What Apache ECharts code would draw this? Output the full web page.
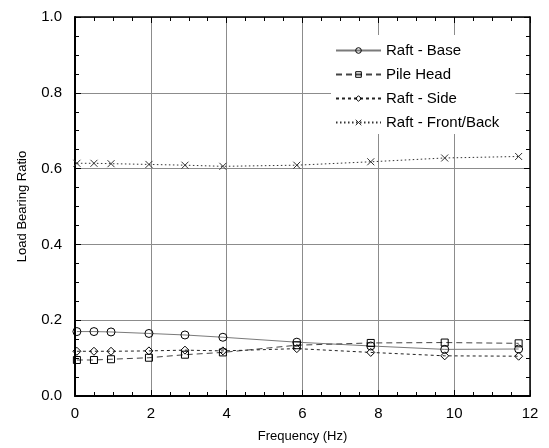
<!DOCTYPE html>
<html>
<head>
<meta charset="utf-8">
<script src="https://cdn.jsdelivr.net/npm/echarts@6/dist/echarts.min.js"></script>
<style>
  html, body { margin: 0; padding: 0; background: #fff; }
  #chart { width: 549px; height: 448px; }
</style>
</head>
<body>
<div id="chart"></div>
<script>
// Excitation frequency (Hz)
var frequency = [0.05, 0.5, 0.95, 1.95, 2.9, 3.9, 5.85, 7.8, 9.75, 11.7];

// Load bearing ratio carried by each component
var raftBase      = [0.170, 0.170, 0.169, 0.165, 0.161, 0.155, 0.142, 0.132, 0.123, 0.124];
var pileHead      = [0.095, 0.095, 0.097, 0.101, 0.109, 0.115, 0.134, 0.140, 0.141, 0.139];
var raftSide      = [0.118, 0.118, 0.118, 0.119, 0.121, 0.119, 0.125, 0.115, 0.106, 0.105];
var raftFrontBack = [0.614, 0.614, 0.613, 0.611, 0.609, 0.606, 0.609, 0.618, 0.628, 0.632];

var seriesNames = ['Raft - Base', 'Pile Head', 'Raft - Side', 'Raft - Front/Back'];

var FONT = 'Liberation Sans, Arial, sans-serif';

function pairs(ys) {
  return frequency.map(function (f, i) { return [f, ys[i]]; });
}

var crossPath = 'path://M0,0L10,10M10,0L0,10';

var hollow = { color: 'rgba(0,0,0,0)', borderColor: '#000', borderWidth: 1 };

var chart = echarts.init(document.getElementById('chart'), null, { renderer: 'canvas' });

var xBase = {
  type: 'value', min: 0, max: 12, interval: 2,
  axisLine: { onZero: false, lineStyle: { color: '#000', width: 2 } },
  axisTick: { inside: true, length: 6, lineStyle: { color: '#000', width: 1 } },
  minorTick: { show: true, splitNumber: 4, length: 4, lineStyle: { color: '#000', width: 1 } }
};
var yBase = {
  type: 'value', min: 0, max: 1, interval: 0.2,
  axisLine: { onZero: false, lineStyle: { color: '#000', width: 2 } },
  axisTick: { inside: true, length: 6, lineStyle: { color: '#000', width: 1 } },
  minorTick: { show: true, splitNumber: 4, length: 4, lineStyle: { color: '#000', width: 1 } }
};

chart.setOption({
  backgroundColor: '#fff',
  animation: false,
  grid: { left: 75, right: 19, top: 17, bottom: 52, containLabel: false },
  legend: {
    data: seriesNames,
    orient: 'vertical',
    left: 331,
    top: 35,
    padding: [8, 16, 4, 4],
    backgroundColor: '#fff',
    itemWidth: 45,
    itemHeight: 7,
    itemGap: 9,
    itemStyle: { borderWidth: 1 },
    textStyle: { fontFamily: FONT, fontSize: 15, color: '#000' }
  },
  xAxis: [
    Object.assign({}, xBase, {
      position: 'bottom',
      name: 'Frequency (Hz)',
      nameLocation: 'middle',
      nameGap: 34,
      nameTextStyle: { fontFamily: FONT, fontSize: 13, color: '#000' },
      axisLabel: { fontFamily: FONT, fontSize: 15, color: '#000', margin: 10 },
      splitLine: { show: true, lineStyle: { color: '#8c8c8c', width: 1 } }
    }),
    Object.assign({}, xBase, {
      position: 'top',
      axisLine: { onZero: false, lineStyle: { color: '#000', width: 1.5 } },
      axisLabel: { show: false },
      splitLine: { show: false }
    })
  ],
  yAxis: [
    Object.assign({}, yBase, {
      position: 'left',
      name: 'Load Bearing Ratio',
      nameLocation: 'middle',
      nameGap: 46,
      nameTextStyle: { fontFamily: FONT, fontSize: 13, color: '#000' },
      axisLabel: {
        fontFamily: FONT, fontSize: 15, color: '#000', margin: 13,
        formatter: function (v) { return v.toFixed(1); }
      },
      splitLine: { show: true, lineStyle: { color: '#8c8c8c', width: 1 } }
    }),
    Object.assign({}, yBase, {
      position: 'right',
      axisLine: { onZero: false, lineStyle: { color: '#000', width: 1.5 } },
      axisLabel: { show: false },
      splitLine: { show: false }
    })
  ],
  series: [
    {
      name: seriesNames[0], type: 'line', data: pairs(raftBase),
      symbol: 'circle', symbolSize: 8,
      itemStyle: hollow,
      lineStyle: { color: '#7a7a7a', width: 1, type: 'solid' },
      z: 3
    },
    {
      name: seriesNames[1], type: 'line', data: pairs(pileHead),
      symbol: 'rect', symbolSize: 7,
      itemStyle: hollow,
      lineStyle: { color: '#444', width: 1, type: [6, 4] },
      z: 3
    },
    {
      name: seriesNames[2], type: 'line', data: pairs(raftSide),
      symbol: 'diamond', symbolSize: 8,
      itemStyle: hollow,
      lineStyle: { color: '#222', width: 1, type: [3, 3] },
      z: 3
    },
    {
      name: seriesNames[3], type: 'line', data: pairs(raftFrontBack),
      symbol: crossPath, symbolSize: 7,
      itemStyle: { color: 'rgba(0,0,0,0)', borderColor: '#333', borderWidth: 1 },
      lineStyle: { color: '#333', width: 1, type: [1.5, 2.5] },
      z: 3
    }
  ]
});
</script>
</body>
</html>
